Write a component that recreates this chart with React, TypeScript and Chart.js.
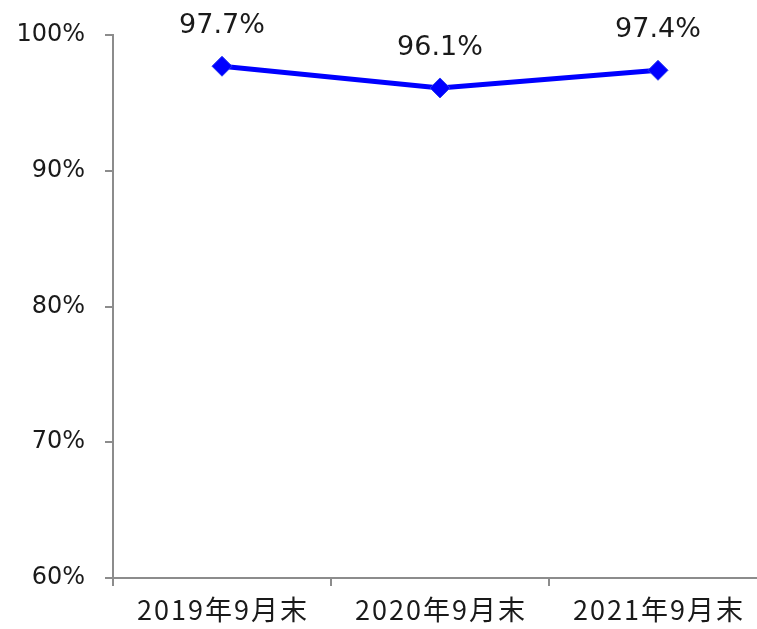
import React, { useEffect, useRef } from "react";
import { Chart, registerables } from "chart.js";

Chart.register(...registerables);

const categories = ["2019年9月末", "2020年9月末", "2021年9月末"];
const values = [97.7, 96.1, 97.4];
const yTicks = [60, 70, 80, 90, 100];

const FONT = '"DejaVu Sans", "Noto Sans CJK SC", sans-serif';
const XFONT = '"Noto Sans CJK SC", "DejaVu Sans", sans-serif';

const labelPlugin = {
  id: "pointLabels",
  afterLayout(chart: any) {
    const s = chart.scales.x;
    if (s && !s.__spaced) {
      const orig = s.drawLabels.bind(s);
      s.drawLabels = (area: any) => {
        const ctx = chart.ctx;
        ctx.save();
        (ctx as any).letterSpacing = "2px";
        ctx.translate(1, 0);
        orig(area);
        ctx.restore();
      };
      s.__spaced = true;
    }
  },
  afterDatasetsDraw(chart: any) {
    const ctx = chart.ctx;
    const meta = chart.getDatasetMeta(0);
    ctx.save();
    ctx.font = `27px ${FONT}`;
    ctx.fillStyle = "#1a1a1a";
    ctx.textAlign = "center";
    ctx.textBaseline = "middle";
    meta.data.forEach((pt: any, i: number) => {
      ctx.fillText(values[i].toFixed(1) + "%", pt.x, pt.y - 40);
    });
    ctx.restore();
  },
};

export default function App() {
  const ref = useRef<HTMLCanvasElement>(null);
  useEffect(() => {
    if (!ref.current) return;
    const chart = new Chart(ref.current, {
      type: "line",
      data: {
        labels: categories,
        datasets: [
          {
            data: values,
            borderColor: "#0000ff",
            borderWidth: 5,
            backgroundColor: "#0000ff",
            pointStyle: "rectRot",
            pointRadius: 10,
            pointBorderColor: "#2a3cf0",
            pointBorderWidth: 1,
            pointBackgroundColor: "#0000ff",
            tension: 0,
          },
        ],
      },
      options: {
        responsive: false,
        animation: false,
        layout: { padding: { top: 35, right: 4, left: 0, bottom: 0 } },
        plugins: { legend: { display: false }, tooltip: { enabled: false } },
        scales: {
          x: {
            type: "category",
            offset: true,
            afterFit: (s: any) => {
              s.height = 51;
            },
            grid: {
              offset: true,
              drawOnChartArea: false,
              drawTicks: true,
              tickLength: 8,
              color: "#8c8c8c",
              lineWidth: 2,
            },
            border: { display: true, color: "#8c8c8c", width: 2 },
            ticks: {
              color: "#1a1a1a",
              font: { family: XFONT, size: 27 },
              padding: 8,
              maxRotation: 0,
            },
          },
          y: {
            min: 60,
            max: 100,
            afterFit: (s: any) => {
              s.width = 113;
            },
            afterBuildTicks: (s: any) => {
              s.ticks = yTicks.map((v) => ({ value: v }));
            },
            grid: {
              drawOnChartArea: false,
              drawTicks: true,
              tickLength: 8,
              color: "#8c8c8c",
              lineWidth: 2,
            },
            border: { display: true, color: "#8c8c8c", width: 2 },
            ticks: {
              color: "#1a1a1a",
              font: { family: FONT, size: 24 },
              padding: 20,
              callback: (v: any) => v + "%",
            },
          },
        },
      },
      plugins: [labelPlugin],
    });
    return () => chart.destroy();
  }, []);
  return (
    <div style={{ position: "fixed", left: 0, top: 0, background: "#fff" }}>
      <canvas ref={ref} width={778} height={629} style={{ display: "block" }} />
    </div>
  );
}
